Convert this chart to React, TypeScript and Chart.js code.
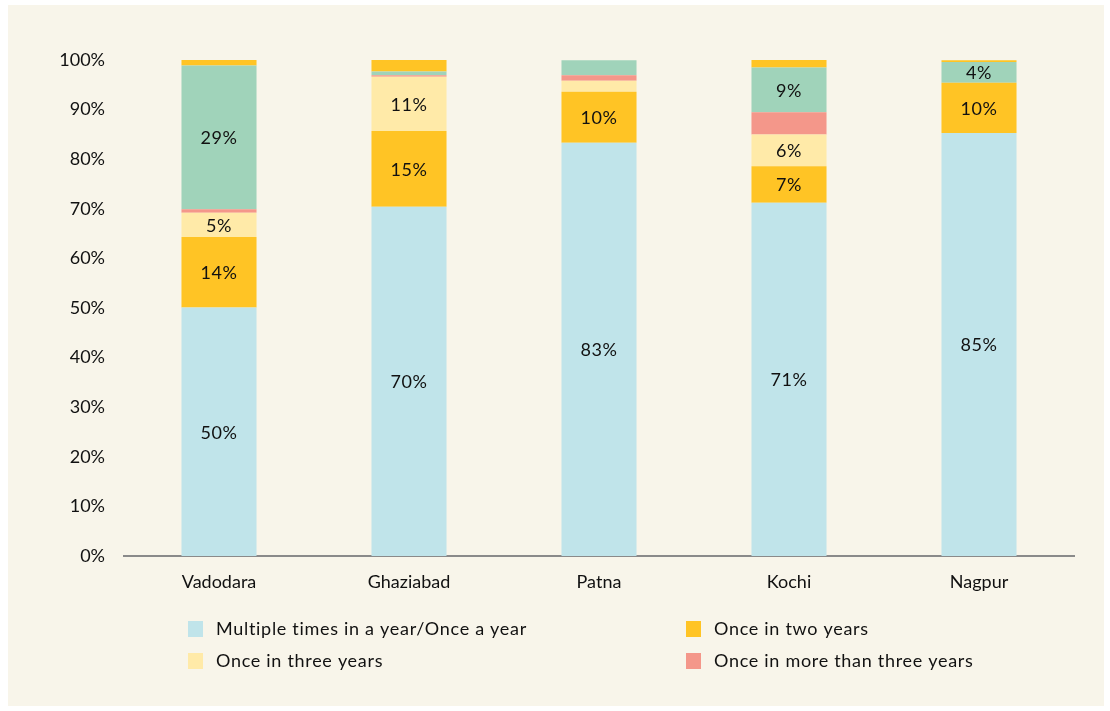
import React, { useEffect, useRef } from "react";
import { Chart, registerables } from "chart.js";

Chart.register(...registerables);

const categories = ["Vadodara", "Ghaziabad", "Patna", "Kochi", "Nagpur"];
const multipleTimes = [50.1, 70.4, 83.3, 71.2, 85.3];
const onceTwoYears = [14.2, 15.3, 10.3, 7.4, 10.1];
const onceThreeYears = [4.9, 10.9, 2.2, 6.4, 0];
const onceMoreThanThree = [0.7, 0.35, 1.15, 4.45, 0];
const otherGreen = [29.0, 0.75, 3.0, 9.05, 4.2];
const otherGold = [1.1, 2.3, 0, 1.5, 0.35];
const yTicks = [0, 10, 20, 30, 40, 50, 60, 70, 80, 90, 100];

const FONT = "Lato, 'Open Sans', sans-serif";

const seriesDefs = [
  { label: "Multiple times in a year/Once a year", data: multipleTimes, color: "#C0E4EA", showLabels: true, legend: true },
  { label: "Once in two years", data: onceTwoYears, color: "#FFC425", showLabels: true, legend: true },
  { label: "Once in three years", data: onceThreeYears, color: "#FFEAA8", showLabels: true, legend: true },
  { label: "Once in more than three years", data: onceMoreThanThree, color: "#F4978A", showLabels: false, legend: true },
  { label: "Other", data: otherGreen, color: "#A0D3BA", showLabels: true, legend: false },
  { label: "Other (2)", data: otherGold, color: "#FFC425", showLabels: false, legend: false },
];

const dataLabelPlugin = {
  id: "segLabels",
  afterDatasetsDraw(chart: any) {
    const ctx = chart.ctx;
    ctx.save();
    ctx.font = `18px ${FONT}`;
    (ctx as any).letterSpacing = "0.5px";
    ctx.fillStyle = "#111";
    ctx.textAlign = "center";
    ctx.textBaseline = "middle";
    chart.data.datasets.forEach((ds: any, di: number) => {
      if (!seriesDefs[di].showLabels) return;
      const meta = chart.getDatasetMeta(di);
      meta.data.forEach((bar: any, i: number) => {
        const v = ds.data[i];
        if (v < 4) return;
        const y = (bar.y + bar.base) / 2;
        ctx.fillText(`${Math.round(v)}%`, bar.x, y + 1);
      });
    });
    ctx.restore();
  },
};

const legendPlugin = {
  id: "customLegend",
  afterDraw(chart: any) {
    const ctx = chart.ctx;
    ctx.save();
    ctx.font = `18px ${FONT}`;
    (ctx as any).letterSpacing = "0.7px";
    ctx.textBaseline = "middle";
    ctx.textAlign = "left";
    const items = seriesDefs.filter((s) => s.legend);
    const cols = [180, 678];
    const rows = [624, 656];
    items.forEach((s, idx) => {
      const cx = cols[idx % 2];
      const cy = rows[Math.floor(idx / 2)];
      ctx.fillStyle = s.color;
      ctx.fillRect(cx, cy - 8, 15, 16);
      ctx.fillStyle = "#111";
      ctx.fillText(s.label, cx + 28, cy);
    });
    ctx.restore();
  },
};

export default function App() {
  const ref = useRef<HTMLCanvasElement>(null);
  useEffect(() => {
    if (!ref.current) return;
    const chart = new Chart(ref.current, {
      type: "bar",
      data: {
        labels: categories,
        datasets: seriesDefs.map((s) => ({
          label: s.label,
          data: s.data,
          backgroundColor: s.color,
          borderWidth: 0,
          barPercentage: 0.395,
          categoryPercentage: 1,
        })),
      },
      options: {
        animation: false,
        responsive: false,
        maintainAspectRatio: false,
        layout: { padding: { top: 55, right: 30, left: 0, bottom: 0 } },
        plugins: {
          legend: { display: false },
          tooltip: { enabled: false },
          title: { display: false },
        },
        scales: {
          x: {
            stacked: true,
            grid: { display: false },
            border: { display: true, color: "#8A8A8A", width: 2 },
            ticks: { font: { family: FONT, size: 18 }, color: "#111", padding: 7 },
            afterFit(scale: any) {
              scale.height = 150;
            },
          },
          y: {
            stacked: true,
            min: 0,
            max: 100,
            grid: { display: false },
            border: { display: false },
            afterBuildTicks(scale: any) {
              scale.ticks = yTicks.map((v) => ({ value: v }));
            },
            ticks: {
              font: { family: FONT, size: 18 },
              color: "#111",
              padding: 11,
              callback: (v: any) => `${v}%`,
            },
            afterFit(scale: any) {
              scale.width = 116;
            },
          },
        },
      },
      plugins: [dataLabelPlugin, legendPlugin],
    });
    return () => chart.destroy();
  }, []);
  return (
    <div
      style={{
        position: "absolute",
        left: 8,
        top: 5,
        width: 1096,
        height: 701,
        background: "#F8F5EA",
      }}
    >
      <canvas ref={ref} width={1096} height={701} style={{ display: "block" }} />
    </div>
  );
}
